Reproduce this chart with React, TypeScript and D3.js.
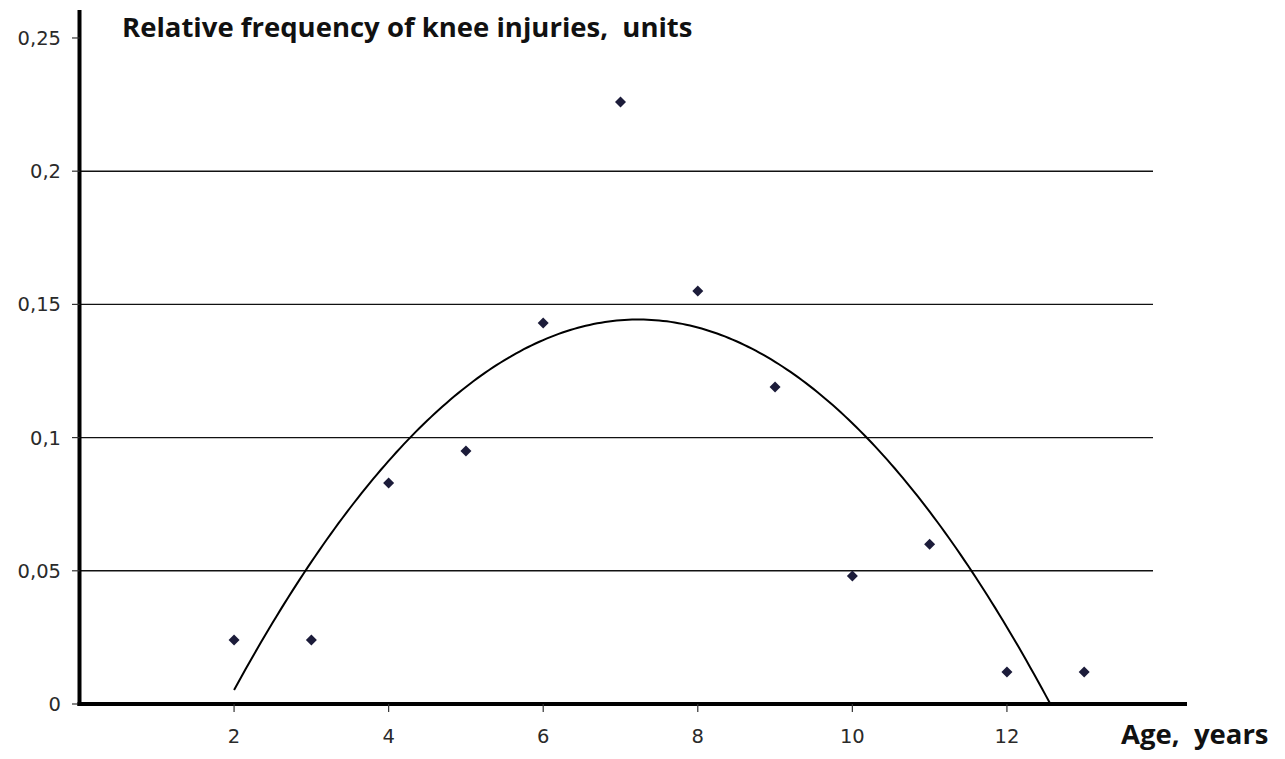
import React, { useEffect, useRef } from 'react';
import * as d3 from 'd3';

// ages (years) and relative frequency of knee injuries
const ages = [2, 3, 4, 5, 6, 7, 8, 9, 10, 11, 12, 13];
const frequency = [0.024, 0.024, 0.083, 0.095, 0.143, 0.226, 0.155, 0.119, 0.048, 0.06, 0.012, 0.012];
const xTicks = [2, 4, 6, 8, 10, 12];
const yTicks = [0, 0.05, 0.1, 0.15, 0.2, 0.25];
const gridTicks = [0.05, 0.1, 0.15, 0.2];
const title = 'Relative frequency of knee injuries,\u00a0\u00a0units';
const xTitle = 'Age,\u00a0\u00a0years';

// least squares quadratic trend (what the spreadsheet drew)
function quadFit(xs: number[], ys: number[]) {
    const n = xs.length;
    let s1 = 0, s2 = 0, s3 = 0, s4 = 0, t0 = 0, t1 = 0, t2 = 0;
    xs.forEach((x, i) => {
        const y = ys[i];
        s1 += x; s2 += x * x; s3 += x ** 3; s4 += x ** 4;
        t0 += y; t1 += x * y; t2 += x * x * y;
    });
    const m = [
        [n, s1, s2, t0],
        [s1, s2, s3, t1],
        [s2, s3, s4, t2],
    ];
    for (let i = 0; i < 3; i++) {
        for (let k = i + 1; k < 3; k++) {
            const f = m[k][i] / m[i][i];
            for (let j = i; j < 4; j++) m[k][j] -= f * m[i][j];
        }
    }
    const c = [0, 0, 0];
    for (let i = 2; i >= 0; i--) {
        let s = m[i][3];
        for (let j = i + 1; j < 3; j++) s -= m[i][j] * c[j];
        c[i] = s / m[i][i];
    }
    return c; // c0 + c1 x + c2 x^2
}

export default function App() {
    const svgRef = useRef<SVGSVGElement>(null);

    useEffect(() => {
        if (!svgRef.current) return;
        const width = 1285;
        const height = 759;

        const svg = d3.select(svgRef.current)
            .attr('width', width)
            .attr('height', height);
        svg.selectAll('*').remove();

        const x = d3.scaleLinear().domain([0, 14.33]).range([79.5, 1187]);
        const y = d3.scaleLinear().domain([0, 0.2605]).range([704, 10]);
        const fmt = d3.formatLocale({ decimal: ',', thousands: ' ', grouping: [3], currency: ['', ''] }).format('~g');
        const tickFont = 'DejaVu Sans, Verdana, sans-serif';

        // grid lines
        svg.append('g')
            .selectAll('line')
            .data(gridTicks)
            .enter()
            .append('line')
            .attr('x1', x(0))
            .attr('x2', 1153)
            .attr('y1', d => y(d))
            .attr('y2', d => y(d))
            .attr('stroke', '#111')
            .attr('stroke-width', 1.4);

        // trend curve
        const [c0, c1, c2] = quadFit(ages, frequency);
        const f = (t: number) => c0 + c1 * t + c2 * t * t;
        const root = (-c1 - Math.sqrt(c1 * c1 - 4 * c2 * c0)) / (2 * c2);
        const xs = d3.range(2, root, 0.05).concat([root]);
        svg.append('path')
            .attr('d', d3.line<number>().x(t => x(t)).y(t => y(Math.max(0, f(t))))(xs) || '')
            .attr('fill', 'none')
            .attr('stroke', '#000')
            .attr('stroke-width', 2);

        // points
        svg.append('g')
            .selectAll('path')
            .data(ages)
            .enter()
            .append('path')
            .attr('transform', (d, i) => `translate(${x(d)},${y(frequency[i])})`)
            .attr('d', 'M0,-5.5L5.5,0L0,5.5L-5.5,0Z')
            .attr('fill', '#1c1c3a');

        // y axis
        const yAxis = svg.append('g');
        yAxis.append('line')
            .attr('x1', x(0)).attr('x2', x(0))
            .attr('y1', y.range()[1]).attr('y2', y(0) + 2)
            .attr('stroke', '#000').attr('stroke-width', 4);
        yAxis.selectAll('line.tick')
            .data(yTicks)
            .enter()
            .append('line')
            .attr('class', 'tick')
            .attr('x1', 72).attr('x2', x(0))
            .attr('y1', d => y(d)).attr('y2', d => y(d))
            .attr('stroke', '#333').attr('stroke-width', 1.2);
        yAxis.selectAll('text')
            .data(yTicks)
            .enter()
            .append('text')
            .attr('x', 61)
            .attr('y', d => y(d))
            .attr('dy', '0.36em')
            .attr('text-anchor', 'end')
            .attr('font-family', tickFont)
            .attr('font-size', 19.5)
            .attr('fill', '#2a2a2a')
            .text(d => fmt(d));

        // x axis
        const xAxis = svg.append('g');
        xAxis.append('line')
            .attr('x1', x(0) - 2).attr('x2', x.range()[1])
            .attr('y1', y(0)).attr('y2', y(0))
            .attr('stroke', '#000').attr('stroke-width', 4);
        xAxis.selectAll('line.tick')
            .data(xTicks)
            .enter()
            .append('line')
            .attr('class', 'tick')
            .attr('x1', d => x(d)).attr('x2', d => x(d))
            .attr('y1', y(0)).attr('y2', y(0) + 8)
            .attr('stroke', '#333').attr('stroke-width', 1.2);
        xAxis.selectAll('text')
            .data(xTicks)
            .enter()
            .append('text')
            .attr('x', d => x(d))
            .attr('y', 743)
            .attr('text-anchor', 'middle')
            .attr('font-family', tickFont)
            .attr('font-size', 19.5)
            .attr('fill', '#2a2a2a')
            .text(d => String(d));

        // titles
        svg.append('text')
            .attr('x', 122)
            .attr('y', 37)
            .attr('font-family', 'Open Sans, sans-serif')
            .attr('font-weight', 'bold')
            .attr('font-size', 27.5)
            .attr('fill', '#111')
            .text(title);
        svg.append('text')
            .attr('x', 1121)
            .attr('y', 744)
            .attr('font-family', 'Open Sans, sans-serif')
            .attr('font-weight', 'bold')
            .attr('font-size', 27.5)
            .attr('fill', '#111')
            .text(xTitle);
    }, []);

    return (
        <svg ref={svgRef} style={{ position: 'absolute', left: 0, top: 0, background: '#fff' }}></svg>
    );
}
